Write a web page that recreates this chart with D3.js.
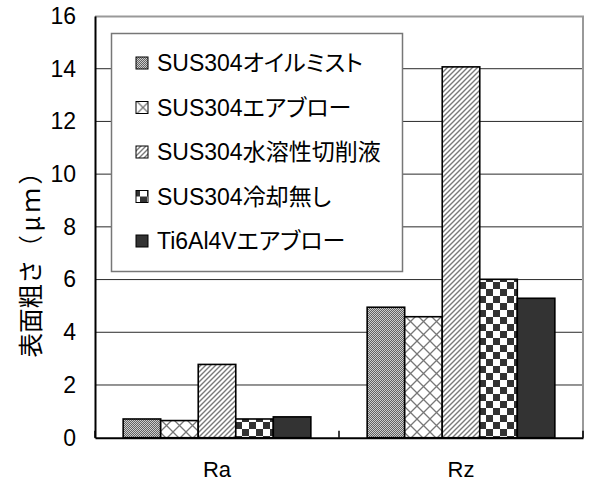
<!DOCTYPE html>
<html>
<head>
<meta charset="utf-8">
<script src="https://cdn.jsdelivr.net/npm/d3@7"></script>
<style>
  html, body { margin: 0; padding: 0; background: #fff; }
  svg { display: block; }
  text { font-family: "Liberation Sans", Arial, "Noto Sans CJK JP", sans-serif; fill: #000; }
</style>
</head>
<body>
<svg id="chart" width="589" height="482"></svg>
<script>
// Surface roughness by cutting condition
const categories = ["Ra", "Rz"];
const seriesNames = [
  "SUS304オイルミスト",
  "SUS304エアブロー",
  "SUS304水溶性切削液",
  "SUS304冷却無し",
  "Ti6Al4Vエアブロー"
];
// values per series: [Ra, Rz] in µm
const oilMist   = [0.71, 4.95];
const airBlow   = [0.65, 4.59];
const waterSol  = [2.78, 14.07];
const noCooling = [0.71, 6.01];
const tiAirBlow = [0.79, 5.29];
const seriesValues = [oilMist, airBlow, waterSol, noCooling, tiAirBlow];
const yTicks = [0, 2, 4, 6, 8, 10, 12, 14, 16];
const yTitleMain = "表面粗さ";
const yTitleUnit = "（μｍ）";

const svg = d3.select("#chart");
const margin = { left: 95, top: 16, right: 6, bottom: 44.3 };
const W = 589 - margin.left - margin.right;
const H = 482 - margin.top - margin.bottom;

// fill patterns
const defs = svg.append("defs");
const patIds = ["pOil", "pAir", "pWater", "pChk", null];

const p1 = defs.append("pattern").attr("id", "pOil").attr("patternUnits", "userSpaceOnUse")
  .attr("width", 2).attr("height", 2);
p1.append("rect").attr("width", 2).attr("height", 2).attr("fill", "#cdcdcd");
p1.append("rect").attr("width", 1).attr("height", 1).attr("fill", "#626262");
p1.append("rect").attr("x", 1).attr("y", 1).attr("width", 1).attr("height", 1).attr("fill", "#626262");

const p2 = defs.append("pattern").attr("id", "pAir").attr("patternUnits", "userSpaceOnUse")
  .attr("width", 13).attr("height", 13);
p2.append("rect").attr("width", 13).attr("height", 13).attr("fill", "#fff");
p2.append("path").attr("d", "M0,0L13,13M13,0L0,13").attr("stroke", "#777").attr("stroke-width", 1.3);

const p3 = defs.append("pattern").attr("id", "pWater").attr("patternUnits", "userSpaceOnUse")
  .attr("width", 5).attr("height", 5);
p3.append("rect").attr("width", 5).attr("height", 5).attr("fill", "#fff");
p3.append("path").attr("d", "M0,5L5,0M-1,1L1,-1M4,6L6,4").attr("stroke", "#7a7a7a").attr("stroke-width", 1.4);

const p4 = defs.append("pattern").attr("id", "pChk").attr("patternUnits", "userSpaceOnUse")
  .attr("width", 14).attr("height", 14);
p4.append("rect").attr("width", 14).attr("height", 14).attr("fill", "#fff");
p4.append("rect").attr("width", 7).attr("height", 7).attr("fill", "#333");
p4.append("rect").attr("x", 7).attr("y", 7).attr("width", 7).attr("height", 7).attr("fill", "#333");

const fillFor = i => patIds[i] ? `url(#${patIds[i]})` : "#333";

const g = svg.append("g").attr("transform", `translate(${margin.left},${margin.top})`);

const x0 = d3.scaleBand().domain(categories).range([0, W]).paddingInner(0).paddingOuter(0);
const x1 = d3.scaleBand().domain(d3.range(seriesNames.length)).range([0, x0.bandwidth()])
  .paddingInner(0).paddingOuter(0.75);
const y = d3.scaleLinear().domain([0, 16]).range([H, 0]);

// gridlines
g.append("g").selectAll("line").data(yTicks.filter(d => d > 0 && d < 16)).join("line")
  .attr("x1", 0).attr("x2", W).attr("y1", d => y(d)).attr("y2", d => y(d))
  .attr("stroke", "#2a2a2a").attr("stroke-width", 1);

// plot frame top and right
g.append("path").attr("d", `M0,0.5H${W}V${H}`).attr("fill", "none")
  .attr("stroke", "#999").attr("stroke-width", 2);

// bars
const groups = g.append("g").selectAll("g").data(categories).join("g")
  .attr("transform", d => `translate(${x0(d)},0)`);
groups.selectAll("rect")
  .data((c, ci) => seriesValues.map((vals, si) => ({ si, v: vals[ci] })))
  .join("rect")
  .attr("x", d => x1(d.si))
  .attr("width", x1.bandwidth())
  .attr("y", d => y(d.v))
  .attr("height", d => H - y(d.v))
  .attr("fill", d => fillFor(d.si))
  .attr("stroke", "#000").attr("stroke-width", 1.6);

// y axis
const yAxis = g.append("g").call(d3.axisLeft(y).tickValues(yTicks).tickSize(0).tickPadding(19));
yAxis.select(".domain").attr("stroke", "#000").attr("stroke-width", 2);
yAxis.selectAll("text").attr("font-size", 23).attr("font-family", null);

// x axis
const xAxis = g.append("g").attr("transform", `translate(0,${H})`)
  .call(d3.axisBottom(x0).tickSize(0).tickPadding(24));
xAxis.select(".domain").attr("stroke", "#000").attr("stroke-width", 2);
xAxis.selectAll("text").attr("font-size", 22).attr("font-family", null);
g.append("g").selectAll("line").data([0, W / 2, W]).join("line")
  .attr("x1", d => d).attr("x2", d => d).attr("y1", H).attr("y2", H - 7)
  .attr("stroke", "#000").attr("stroke-width", 1.5);

// y title
const yt = svg.append("text")
  .attr("transform", "translate(40,257) rotate(-90)")
  .attr("text-anchor", "middle")
  .attr("font-size", 24.5)
  .style("font-family", "'Noto Sans CJK JP', sans-serif");
yt.append("tspan").text(yTitleMain);
yt.append("tspan").attr("letter-spacing", 3.5).text(yTitleUnit);

// legend
const lg = svg.append("g");
lg.append("rect").attr("x", 111.5).attr("y", 33.5).attr("width", 291).attr("height", 238)
  .attr("fill", "#fff").attr("stroke", "#777").attr("stroke-width", 1.5);
const rows = lg.selectAll("g.row").data(seriesNames).join("g").attr("class", "row")
  .attr("transform", (d, i) => `translate(0,${63 + i * 44.5})`);
rows.append("rect").attr("x", 136).attr("y", -6).attr("width", 12).attr("height", 12)
  .attr("fill", (d, i) => fillFor(i)).attr("stroke", "#000").attr("stroke-width", 1);
rows.append("text").attr("x", 157).attr("y", 0).attr("dy", "0.36em")
  .attr("font-size", 23).style("font-feature-settings", "'palt'")
  .text(d => d);
</script>
</body>
</html>
